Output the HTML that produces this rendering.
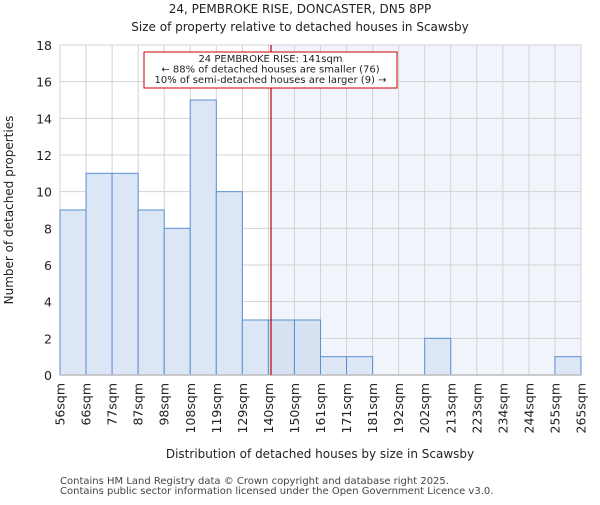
<!DOCTYPE html>
<html><head><meta charset="utf-8"><style>
body{margin:0;background:#fff;}
svg text{font-family:"DejaVu Sans","Liberation Sans",sans-serif;fill:#222;}
</style></head><body>
<svg id="chart" width="600" height="500" xmlns="http://www.w3.org/2000/svg">
<text x="300" y="13" text-anchor="middle" font-size="12">24, PEMBROKE RISE, DONCASTER, DN5 8PP</text>
<text x="300" y="31" text-anchor="middle" font-size="12">Size of property relative to detached houses in Scawsby</text>
<g id="plot"></g>
<text x="320" y="458" text-anchor="middle" font-size="12">Distribution of detached houses by size in Scawsby</text>
<text transform="translate(13,210) rotate(-90)" text-anchor="middle" font-size="12">Number of detached properties</text>
<text x="60" y="484" font-size="10" style="fill:#444">Contains HM Land Registry data © Crown copyright and database right 2025.</text>
<text x="60" y="494" font-size="10" style="fill:#444">Contains public sector information licensed under the Open Government Licence v3.0.</text>
</svg>
<script>
const binLabels=["56sqm","66sqm","77sqm","87sqm","98sqm","108sqm","119sqm","129sqm","140sqm","150sqm","161sqm","171sqm","181sqm","192sqm","202sqm","213sqm","223sqm","234sqm","244sqm","255sqm","265sqm"];
const counts=[9,11,11,9,8,15,10,3,3,3,1,1,0,0,2,0,0,0,0,1];
const yTicks=[0,2,4,6,8,10,12,14,16,18];
const markerBin=8.1;
const annotationLines=["24 PEMBROKE RISE: 141sqm","← 88% of detached houses are smaller (76)","10% of semi-detached houses are larger (9) →"];
const X0=60,X1=581,Y0=375,Y1=45,YMAX=18;
const n=counts.length,bw=(X1-X0)/n;
const xs=i=>X0+i*bw, ys=v=>Y0-(v/YMAX)*(Y0-Y1);
const NS="http://www.w3.org/2000/svg",g=document.getElementById('plot');
function mk(t,a){const e=document.createElementNS(NS,t);for(const k in a)e.setAttribute(k,a[k]);g.appendChild(e);return e;}
const mx=xs(markerBin);
let e=mk('rect',{x:mx,y:Y1,width:X1-mx,height:Y0-Y1,fill:'#f1f4fb'});


for(let i=0;i<=n;i++){e=mk('line',{x1:xs(i),x2:xs(i),y1:Y1,y2:Y0,stroke:'#d3d3d3','stroke-width':1});

}
yTicks.forEach(t=>{e=mk('line',{x1:X0,x2:X1,y1:ys(t),y2:ys(t),stroke:'#d3d3d3','stroke-width':1});


e=mk('text',{x:X0-8,y:ys(t)+5,'text-anchor':'end','font-size':12.5});e.textContent=t;

});
counts.forEach((c,i)=>{if(!c)return;e=mk('rect',{x:xs(i),y:ys(c),width:bw,height:Y0-ys(c),fill:i>=8&&i<=9?'#d6e1f2':'#dce6f4',stroke:'#5b8fd6','stroke-width':1});

});
e=mk('line',{x1:X0,x2:X1,y1:Y0,y2:Y0,stroke:'#bbb','stroke-width':1.5});


binLabels.forEach((l,i)=>{e=mk('text',{transform:`translate(${xs(i)+4.5},383) rotate(-90)`,'text-anchor':'end','font-size':12.5});e.textContent=l;

});
e=mk('line',{x1:mx,x2:mx,y1:Y1,y2:Y0,stroke:'#b00','stroke-width':1.2});


e=mk('rect',{x:144,y:52,width:253,height:36,fill:'#fff',stroke:'#c00','stroke-width':1});


annotationLines.forEach((l,i)=>{e=mk('text',{x:270.5,y:62+i*10.5,'text-anchor':'middle','font-size':10});e.textContent=l;

});
</script>
</body></html>
